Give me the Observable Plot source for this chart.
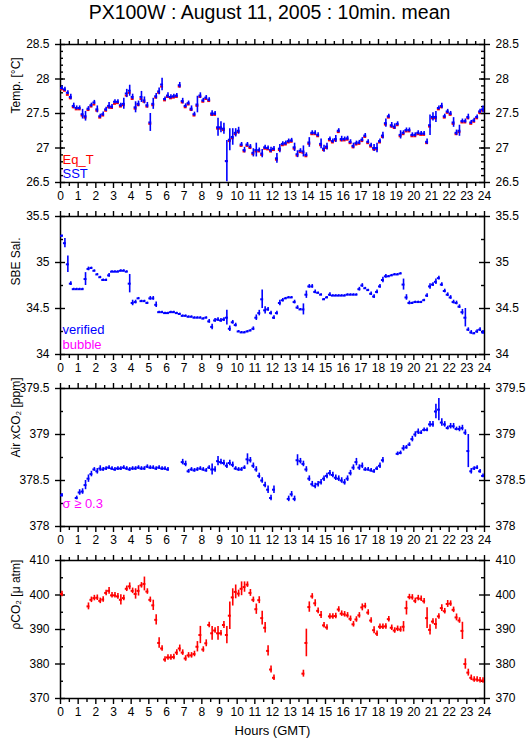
<!DOCTYPE html>
<html><head><meta charset="utf-8">
<script src="https://cdn.jsdelivr.net/npm/d3@7"></script>
<script src="https://cdn.jsdelivr.net/npm/@observablehq/plot@0.6"></script>
<style>
body{margin:0;background:#fff;}
#chart{width:529px;font-family:"Liberation Sans",Arial,sans-serif;}
#title{height:30px;text-align:center;font-size:19.5px;line-height:24px;padding-left:10px;box-sizing:border-box;}
svg{display:block}
</style></head><body>
<div id="chart"><div id="title">PX100W : August 11, 2005 : 10min. mean</div></div>
<script>
// ---------- data (10-min means, index i => hour i/6 + 1/12) ----------
const sst = [27.87,27.85,27.80,27.74,27.61,27.58,27.58,27.49,27.46,27.57,
 27.62,27.66,27.56,27.46,27.49,27.56,27.61,27.60,27.67,27.67,
 27.62,27.64,27.79,27.83,27.74,27.59,27.64,27.74,27.69,27.62,
 27.37,27.64,27.75,27.82,27.92,27.71,27.76,27.74,27.75,27.76,
 27.91,27.68,27.61,27.65,27.57,27.49,27.63,27.76,27.69,27.73,
 27.70,27.50,27.50,27.30,27.30,27.28,26.81,27.12,27.16,27.22,
 27.25,27.05,26.97,27.05,27.02,26.93,26.97,26.97,26.92,27.01,
 27.00,26.97,26.99,26.85,26.99,27.06,27.07,27.10,27.11,27.01,
 26.91,26.96,26.95,26.90,27.08,27.22,27.22,27.19,27.06,26.99,
 27.02,27.13,27.10,27.13,27.25,27.13,27.13,27.14,27.09,27.03,
 27.07,27.08,27.12,27.18,27.09,27.04,27.00,27.00,27.10,27.18,
 27.36,27.46,27.33,27.31,27.35,27.19,27.22,27.26,27.26,27.19,
 27.19,27.22,27.21,27.21,27.09,27.33,27.45,27.45,27.58,27.61,
 27.46,27.53,27.50,27.37,27.22,27.25,27.39,27.39,27.45,27.37,
 27.40,27.45,27.53,27.56];
const sstErr = [0.03,0.03,0.03,0.04,0.04,0.03,0.03,0.07,0.07,0.03,
 0.03,0.03,0.05,0.03,0.03,0.03,0.05,0.03,0.03,0.03,
 0.03,0.08,0.06,0.08,0.04,0.08,0.04,0.08,0.05,0.04,
 0.13,0.08,0.04,0.05,0.09,0.03,0.04,0.03,0.03,0.03,
 0.04,0.04,0.03,0.03,0.04,0.03,0.12,0.04,0.03,0.03,
 0.03,0.04,0.03,0.13,0.08,0.08,0.30,0.16,0.12,0.06,
 0.05,0.03,0.04,0.03,0.03,0.06,0.10,0.03,0.06,0.03,
 0.03,0.04,0.03,0.07,0.06,0.03,0.03,0.03,0.03,0.06,
 0.05,0.03,0.08,0.03,0.07,0.03,0.03,0.03,0.07,0.05,
 0.05,0.03,0.03,0.05,0.03,0.04,0.03,0.03,0.03,0.04,
 0.03,0.03,0.03,0.03,0.03,0.03,0.05,0.07,0.03,0.05,
 0.06,0.03,0.04,0.04,0.03,0.06,0.03,0.03,0.03,0.03,
 0.03,0.03,0.03,0.03,0.04,0.15,0.06,0.08,0.03,0.04,
 0.03,0.03,0.03,0.07,0.04,0.08,0.03,0.03,0.04,0.03,
 0.03,0.03,0.03,0.05];
const eqT = [27.85,27.83,27.77,27.72,27.59,27.56,27.56,27.47,27.44,27.55,
 27.60,27.63,27.54,27.44,27.47,27.54,27.59,27.58,27.64,27.65,
 27.60,27.62,27.76,27.80,27.71,27.57,27.62,27.71,27.67,27.60,
 27.35,27.62,27.73,27.80,27.89,27.69,27.74,27.72,27.73,27.74,
 27.89,27.66,27.59,27.63,27.55,27.47,27.61,27.74,27.67,27.71,
 27.68,27.48,27.48,27.28,27.28,27.26,26.81,27.10,27.14,27.20,
 27.23,27.03,26.95,27.03,27.00,26.91,26.95,26.95,26.90,26.99,
 26.98,26.95,26.97,26.83,26.97,27.04,27.05,27.08,27.09,26.99,
 26.89,26.94,26.93,26.88,27.06,27.20,27.20,27.17,27.04,26.97,
 27.00,27.11,27.08,27.11,27.23,27.11,27.11,27.12,27.07,27.01,
 27.05,27.06,27.10,27.16,27.07,27.02,26.98,26.98,27.08,27.16,
 27.34,27.44,27.31,27.29,27.33,27.17,27.20,27.24,27.24,27.17,
 27.17,27.20,27.19,27.19,27.07,27.31,27.43,27.43,27.56,27.59,
 27.44,27.51,27.48,27.35,27.20,27.23,27.37,27.37,27.43,27.35,
 27.38,27.43,27.51,27.54];
const sal = [35.29,35.21,34.98,34.77,34.71,34.71,34.71,34.71,34.82,34.93,
 34.94,34.91,34.87,34.84,34.81,34.81,34.86,34.90,34.90,34.90,
 34.91,34.91,34.90,34.77,34.56,34.57,34.61,34.58,34.58,34.56,
 34.61,34.61,34.54,34.46,34.46,34.45,34.45,34.46,34.46,34.45,
 34.44,34.42,34.42,34.41,34.41,34.40,34.40,34.40,34.39,34.40,
 34.36,34.30,34.37,34.38,34.37,34.38,34.40,34.28,34.35,34.32,
 34.25,34.24,34.24,34.25,34.26,34.28,34.40,34.45,34.60,34.48,
 34.49,34.45,34.40,34.45,34.56,34.59,34.61,34.62,34.62,34.57,
 34.51,34.49,34.49,34.65,34.74,34.74,34.68,34.67,34.65,34.60,
 34.62,34.65,34.64,34.64,34.64,34.64,34.64,34.65,34.65,34.65,
 34.65,34.71,34.75,34.72,34.70,34.66,34.63,34.68,34.74,34.81,
 34.85,34.85,34.86,34.87,34.87,34.88,34.76,34.62,34.56,34.56,
 34.57,34.57,34.57,34.59,34.64,34.74,34.76,34.79,34.83,34.76,
 34.69,34.65,34.62,34.57,34.56,34.52,34.46,34.40,34.27,34.24,
 34.23,34.25,34.27,34.24];
const salErr = [0.01,0.05,0.09,0.02,0.01,0.01,0.01,0.01,0.07,0.02,
 0.01,0.01,0.01,0.01,0.01,0.01,0.02,0.01,0.01,0.01,
 0.01,0.01,0.01,0.10,0.03,0.02,0.01,0.01,0.01,0.01,
 0.02,0.02,0.03,0.01,0.01,0.01,0.01,0.01,0.01,0.01,
 0.01,0.01,0.01,0.01,0.01,0.01,0.01,0.01,0.01,0.01,
 0.02,0.03,0.02,0.02,0.02,0.02,0.08,0.03,0.02,0.02,
 0.01,0.01,0.01,0.01,0.01,0.02,0.03,0.03,0.10,0.04,
 0.02,0.02,0.02,0.02,0.03,0.02,0.01,0.01,0.01,0.02,
 0.02,0.01,0.06,0.04,0.02,0.02,0.02,0.01,0.01,0.01,
 0.01,0.02,0.01,0.01,0.01,0.01,0.01,0.01,0.01,0.01,
 0.01,0.02,0.02,0.01,0.01,0.02,0.02,0.02,0.02,0.03,
 0.02,0.01,0.01,0.01,0.01,0.01,0.06,0.03,0.02,0.01,
 0.01,0.01,0.01,0.01,0.02,0.03,0.02,0.03,0.02,0.02,
 0.02,0.02,0.02,0.02,0.02,0.02,0.03,0.10,0.02,0.02,
 0.01,0.02,0.02,0.02];
const air = [378.34,null,null,null,null,378.31,378.37,378.38,378.45,378.52,
 378.57,378.62,378.60,378.63,378.62,378.63,378.64,378.63,378.62,378.63,
 378.63,378.64,378.63,378.62,378.63,378.63,378.64,378.63,378.63,378.65,
 378.64,378.64,378.63,378.64,378.63,378.63,378.62,null,null,null,
 null,378.70,378.68,378.60,378.62,378.61,378.62,378.63,378.62,378.61,
 378.64,378.62,378.62,378.71,378.70,378.69,378.66,378.69,378.67,378.63,
 378.62,378.62,378.64,378.73,378.72,378.66,378.62,378.55,378.50,378.45,
 378.40,378.31,378.40,null,null,null,null,378.30,378.35,378.30,
 378.72,378.71,378.68,378.62,378.52,378.46,378.44,378.46,378.48,378.52,
 378.55,378.58,378.56,378.53,378.52,378.50,378.48,378.52,378.58,378.64,
 378.70,378.64,378.66,378.62,378.62,378.61,378.60,378.63,378.66,378.72,
 null,null,null,null,378.79,378.80,378.85,378.86,378.89,378.95,
 379.00,379.03,379.02,379.05,379.05,379.11,379.11,379.25,379.27,379.13,
 379.11,379.07,379.09,379.09,379.06,379.06,379.07,379.02,378.82,378.60,
 378.63,378.64,378.60,378.55];
const airErr = [0.02,0,0,0,0,0.02,0.03,0.03,0.05,0.04,
 0.03,0.02,0.03,0.03,0.02,0.02,0.02,0.02,0.02,0.02,
 0.02,0.02,0.02,0.02,0.02,0.02,0.02,0.02,0.02,0.02,
 0.02,0.02,0.02,0.02,0.02,0.02,0.02,0,0,0,
 0,0.03,0.03,0.02,0.02,0.02,0.02,0.02,0.02,0.02,
 0.02,0.06,0.03,0.05,0.03,0.03,0.03,0.03,0.03,0.02,
 0.02,0.02,0.02,0.06,0.03,0.03,0.03,0.03,0.03,0.03,
 0.04,0.03,0.04,0,0,0,0,0.03,0.03,0.03,
 0.06,0.03,0.03,0.03,0.03,0.03,0.03,0.03,0.03,0.03,
 0.03,0.03,0.03,0.03,0.03,0.03,0.03,0.03,0.03,0.03,
 0.04,0.03,0.03,0.02,0.02,0.02,0.02,0.02,0.03,0.03,
 0,0,0,0,0.02,0.02,0.03,0.02,0.02,0.03,
 0.03,0.03,0.02,0.02,0.02,0.03,0.03,0.08,0.12,0.04,
 0.03,0.02,0.03,0.03,0.02,0.03,0.03,0.03,0.18,0.03,
 0.02,0.02,0.02,0.02];
const pco2 = [400.3,null,null,null,null,null,null,null,null,396.7,
 398.6,399.1,399.2,398.3,398.7,400.6,401.2,399.9,399.9,399.6,
 398.6,399.1,401.8,402.5,401.2,400.3,401.2,402.8,403.2,401.0,
 398.6,397.0,392.8,386.1,384.5,381.3,381.9,381.9,382.0,383.3,
 384.5,383.3,381.6,382.5,382.5,382.9,385.0,388.4,384.2,386.0,
 391.3,388.9,389.7,388.9,388.9,391.3,388.4,394.0,399.3,400.9,
 400.4,401.8,402.3,403.0,400.6,398.6,395.9,398.5,393.3,390.5,
 383.8,378.4,376.0,null,null,null,null,null,null,null,
 null,null,377.2,386.1,396.5,399.6,397.6,395.4,394.2,391.2,
 390.6,393.8,393.8,393.9,395.8,394.6,394.4,394.1,393.1,391.5,
 392.9,394.1,396.4,396.8,394.9,392.6,389.8,388.8,390.8,390.8,
 390.9,393.0,390.5,389.7,390.2,390.0,390.8,396.2,399.4,399.3,
 398.3,399.1,398.9,398.2,393.3,389.9,392.3,391.6,393.8,396.2,
 395.3,397.4,397.5,395.7,393.5,392.6,389.6,380.0,377.5,376.0,
 375.5,375.5,375.3,375.2];
const pco2Err = [0.8,0,0,0,0,0,0,0,0,1.0,
 0.8,0.8,0.8,0.8,0.8,0.8,1.0,0.8,0.8,0.8,
 1.5,0.8,0.8,1.0,0.8,1.5,1.5,0.8,2.0,0.8,
 0.8,1.5,1.5,1.5,0.8,0.8,0.8,0.8,0.8,0.8,
 1.0,0.8,0.8,0.8,0.8,0.8,1.5,2.5,0.8,1.0,
 0.8,2.0,0.8,2.0,0.8,1.0,2.5,4.0,2.5,2.0,
 1.0,2.0,1.5,0.8,1.0,0.8,1.5,1.0,2.0,1.5,
 1.5,1.0,0.8,0,0,0,0,0,0,0,
 0,0,1.0,4.0,1.5,0.8,1.0,0.8,1.0,0.8,
 0.8,0.8,0.8,0.8,0.8,0.8,0.8,0.8,0.8,0.8,
 0.8,0.8,1.0,0.8,0.8,0.8,1.0,0.8,0.8,0.8,
 0.8,0.8,0.8,0.8,0.8,0.8,1.5,2.0,0.8,0.8,
 0.8,0.8,0.8,0.8,3.0,1.5,0.8,1.5,0.8,1.0,
 0.8,1.0,0.8,0.8,1.0,0.8,2.5,1.5,1.0,0.8,
 0.8,0.8,0.8,0.8];

// tick values
const xMajor = d3.range(0, 25, 1);
const xMinor = d3.range(0.5, 24, 1);
const tempMajor = [26.5, 27, 27.5, 28, 28.5];
const tempMinor = d3.range(26.6, 28.45, 0.1).map(v => +v.toFixed(1));
const salMajor = [34, 34.5, 35, 35.5];
const salMinor = [34.25, 34.75, 35.25];
const airMajor = [378, 378.5, 379, 379.5];
const airMinor = [378.25, 378.75, 379.25];
const pMajor = [370, 380, 390, 400, 410];
const pMinor = [375, 385, 395, 405];

// ---------- layout ----------
const hours = d3.range(144).map(i => i / 6 + 1 / 12);
const W = 529, ML = 60, MR = 45, MT = 14, MB = 20, PH = 138;
const hpp = 24 / (W - ML - MR); // hours per pixel
const BLUE = "#0000ff", RED = "#ff0000", MAG = "#ff00ff";

function rows(vals, errs) {
  return vals.map((v, i) => v == null ? null : {t: hours[i], v, e: errs ? errs[i] : 0}).filter(d => d);
}

function panel({domain, major, minor, ylabel, layers, legend, last}) {
  const H = MT + PH + (last ? 41 : MB);
  const marks = [
    Plot.frame({stroke: "black", strokeWidth: 1.5}),
    Plot.axisX({anchor: "bottom", ticks: xMajor, tickSize: 6, tickPadding: 3, tickFormat: d => String(d), label: null, fontSize: 12, strokeWidth: 1.4}),
    Plot.axisX({anchor: "bottom", ticks: xMinor, tickSize: 4, tickFormat: () => "", label: null, strokeWidth: 1.4}),
    Plot.axisX({anchor: "top", ticks: xMajor, tickSize: 6, tickFormat: () => "", label: null, strokeWidth: 1.4}),
    Plot.axisX({anchor: "top", ticks: xMinor, tickSize: 4, tickFormat: () => "", label: null, strokeWidth: 1.4}),
    Plot.axisY({anchor: "left", ticks: major, tickSize: 5, tickPadding: 6, tickFormat: d => String(d), label: null, fontSize: 12, strokeWidth: 1.4}),
    Plot.axisY({anchor: "right", ticks: major, tickSize: 5, tickPadding: 6, tickFormat: d => String(d), label: null, fontSize: 12, strokeWidth: 1.4}),
    Plot.ruleY(major, {x1: 0, x2: 5 * hpp, stroke: "black", strokeWidth: 1.4}),
    Plot.ruleY(major, {x1: 24 - 5 * hpp, x2: 24, stroke: "black", strokeWidth: 1.4}),
    Plot.ruleY(minor, {x1: 0, x2: 3 * hpp, stroke: "black", strokeWidth: 1.4}),
    Plot.ruleY(minor, {x1: 24 - 3 * hpp, x2: 24, stroke: "black", strokeWidth: 1.4}),
    Plot.text([ylabel], {frameAnchor: "left", rotate: -90, dx: -44, fontSize: 12, lineAnchor: "middle"})
  ];
  for (const L of layers) {
    const data = rows(L.values, L.errs);
    if (L.errs) marks.push(Plot.ruleX(data, {x: "t", y1: d => d.v - d.e, y2: d => d.v + d.e, stroke: L.color, strokeWidth: 1.6}));
    marks.push(Plot.ruleY(data, {y: "v", x1: d => d.t - 1 / 12, x2: d => d.t + 1 / 12, stroke: L.color, strokeWidth: 2}));
  }
  for (const g of legend) {
    marks.push(Plot.text([g.text], {frameAnchor: "bottom-left", dx: 2, dy: g.dy, fill: g.color, fontSize: 13, textAnchor: "start", lineAnchor: "middle"}));
  }
  if (last) marks.push(Plot.text(["Hours (GMT)"], {frameAnchor: "bottom", dy: 32, fontSize: 13, lineAnchor: "middle"}));
  return Plot.plot({
    width: W, height: H,
    marginLeft: ML, marginRight: MR, marginTop: MT, marginBottom: H - MT - PH,
    x: {domain: [0, 24]},
    y: {domain},
    style: {fontFamily: "Liberation Sans, Arial, sans-serif", fontSize: "12px", background: "#fff", color: "black"},
    marks
  });
}

const chart = document.getElementById("chart");
chart.append(panel({domain: [26.5, 28.5], major: tempMajor, minor: tempMinor, ylabel: "Temp. [°C]",
  layers: [{values: eqT, color: RED}, {values: sst, errs: sstErr, color: BLUE}],
  legend: [{text: "Eq_T", color: RED, dy: -23}, {text: "SST", color: BLUE, dy: -9}]}));
chart.append(panel({domain: [34, 35.5], major: salMajor, minor: salMinor, ylabel: "SBE Sal.",
  layers: [{values: sal, errs: salErr, color: BLUE}],
  legend: [{text: "verified", color: BLUE, dy: -25}, {text: "bubble", color: MAG, dy: -10}]}));
chart.append(panel({domain: [378, 379.5], major: airMajor, minor: airMinor, ylabel: "Air xCO₂ [ppm]",
  layers: [{values: air, errs: airErr, color: BLUE}],
  legend: [{text: "σ ≥ 0.3", color: MAG, dy: -23}]}));
chart.append(panel({domain: [370, 410], major: pMajor, minor: pMinor, ylabel: "ρCO₂ [μ atm]",
  layers: [{values: pco2, errs: pco2Err, color: RED}],
  legend: [], last: true}));
</script>
</body></html>
